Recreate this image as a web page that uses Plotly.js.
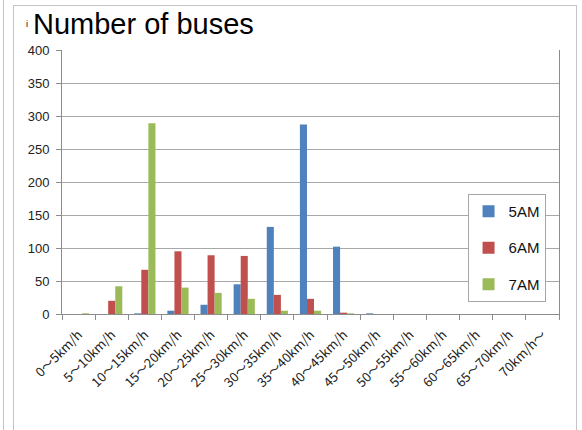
<!DOCTYPE html>
<html>
<head>
<meta charset="utf-8">
<script src="https://cdn.plot.ly/plotly-3.0.1.min.js"></script>
<style>
  html, body { margin: 0; padding: 0; background: #fff; }
  #wrap { position: relative; width: 582px; height: 430px; overflow: hidden; }
  #chart { position: absolute; left: 0; top: 0; width: 582px; height: 430px; }
  .edge { position: absolute; background: #c4c4c4; pointer-events: none; }
</style>
</head>
<body>
<div id="wrap">
  <div id="chart"></div>
  <div class="edge" style="left:3px; top:0; width:1px; height:430px;"></div>
  <div class="edge" style="left:13px; top:5px; width:1px; height:425px;"></div>
  <div class="edge" style="left:13px; top:5px; width:564px; height:1px;"></div>
  <div class="edge" style="left:576px; top:5px; width:1px; height:425px;"></div>
</div>
<script>
// Speed bands
const categories = [
  '0～5km/h', '5～10km/h', '10～15km/h', '15～20km/h', '20～25km/h',
  '25～30km/h', '30～35km/h', '35～40km/h', '40～45km/h', '45～50km/h',
  '50～55km/h', '55～60km/h', '60～65km/h', '65～70km/h', '70km/h～'
];

// Bus counts per speed band
const bus5AM = [0, 0, 1, 5, 14, 45, 132, 287, 102, 1, 0, 0, 0, 0, 0];
const bus6AM = [0, 20, 67, 95, 89, 88, 29, 23, 2, 0, 0, 0, 0, 0, 0];
const bus7AM = [1, 42, 289, 40, 32, 23, 5, 5, 1, 0, 0, 0, 0, 0, 0];

const seriesNames = ['5AM', '6AM', '7AM'];
const seriesColors = ['#4f81bd', '#c0504d', '#9bbb59'];
const seriesValues = [bus5AM, bus6AM, bus7AM];

const traces = seriesValues.map((vals, i) => ({
  type: 'bar',
  name: seriesNames[i],
  x: categories,
  y: vals,
  legendgroup: 'g' + i,
  marker: { color: seriesColors[i], line: { width: 0 } },
  hoverinfo: 'x+y+name'
}));

const layout = {
  width: 582,
  height: 430,
  margin: { l: 62, r: 23, t: 50, b: 116 },
  paper_bgcolor: 'rgba(0,0,0,0)',
  plot_bgcolor: '#fff',
  font: { family: 'Liberation Sans, Arial, sans-serif', color: '#222' },
  barmode: 'group',
  bargap: 0.36,
  bargroupgap: 0,
  showlegend: true,
  legend: {
    x: 0.816, y: 0.455, xanchor: 'left', yanchor: 'top',
    bgcolor: '#fff',
    bordercolor: '#a6a6a6',
    borderwidth: 1,
    font: { size: 15, color: '#111' },
    tracegroupgap: 14,
    itemwidth: 30
  },
  annotations: [
    {
      text: 'Number of buses',
      xref: 'paper', yref: 'paper',
      x: -0.063, y: 1.0, xanchor: 'left', yanchor: 'bottom',
      yshift: 8,
      showarrow: false,
      font: { size: 29, color: '#000' }
    },
    {
      text: 'i',
      xref: 'paper', yref: 'paper',
      x: -0.076, y: 1.0, xanchor: 'left', yanchor: 'bottom',
      yshift: 19,
      showarrow: false,
      font: { size: 9, color: '#000' }
    }
  ],
  xaxis: {
    type: 'category',
    tickangle: -45,
    tickson: 'boundaries',
    ticks: 'outside',
    ticklen: 5,
    tickcolor: '#8c8c8c',
    ticklabelstandoff: 7,
    showline: true,
    linecolor: '#8c8c8c',
    linewidth: 1,
    showgrid: false,
    tickfont: { size: 13, color: '#222', family: 'Noto Sans CJK JP, Liberation Sans, sans-serif' },
    fixedrange: true
  },
  yaxis: {
    range: [0, 400],
    dtick: 50,
    ticks: 'outside',
    ticklen: 5,
    tickcolor: '#8c8c8c',
    ticklabelstandoff: 4,
    showline: true,
    mirror: true,
    linecolor: '#8c8c8c',
    linewidth: 1,
    showgrid: true,
    gridcolor: '#a8a8a8',
    gridwidth: 1,
    zeroline: false,
    tickfont: { size: 13, color: '#222' },
    fixedrange: true
  }
};

Plotly.newPlot('chart', traces, layout, { displayModeBar: false, staticPlot: true });
</script>
</body>
</html>
